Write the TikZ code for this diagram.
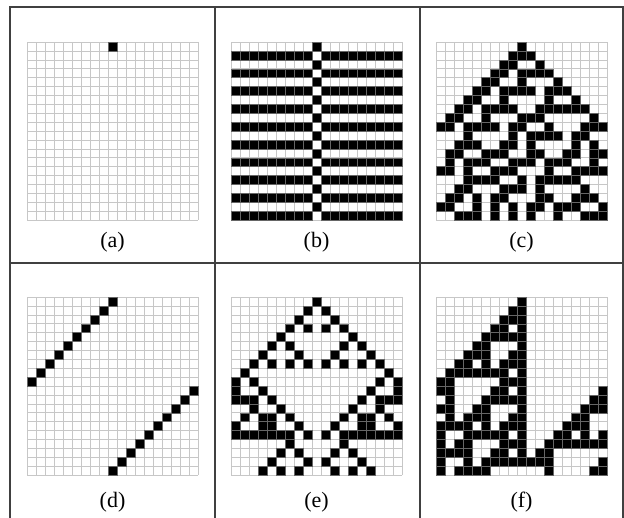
\documentclass[tikz,border=0pt]{standalone}
\usepackage{fontspec}
\setmainfont{Liberation Serif}
\tikzset{
  cacell/.style={fill=black, draw=black!60, line width=0.4pt},
  gridline/.style={draw=black!22, line width=0.6pt},
  frameline/.style={draw=black!75, line width=1.3pt},
  caption/.style={font=\fontsize{22}{26}\selectfont, inner sep=0pt, anchor=center}
}
\ExplSyntaxOn
\intarray_new:Nn \g__ca_cur_intarray {19}
\intarray_new:Nn \g__ca_nxt_intarray {19}
\int_new:N \l__ca_idx_int
\cs_new_protected:Npn \CAgrid #1#2#3
 {
  \int_step_inline:nnn {0} {19}
   { \draw[gridline]~({#2+##1*9},#3)~--~++(0,178); }
  \int_step_inline:nnn {0} {20}
   { \draw[gridline]~(#2,{#3+##1*8.9})~--~++(171,0); }
  \intarray_gzero:N \g__ca_cur_intarray
  \intarray_gset:Nnn \g__ca_cur_intarray {10} {1}
  \int_step_inline:nnn {0} {19}
   {
    \int_step_inline:nnn {1} {19}
     {
      \int_compare:nNnT { \intarray_item:Nn \g__ca_cur_intarray {####1} } = {1}
       { \path[cacell]~({#2+(####1-1)*9},{#3+##1*8.9})~rectangle~++(9,8.9); }
     }
    \int_step_inline:nnn {1} {19}
     {
      \int_set:Nn \l__ca_idx_int
       {
        4 * \intarray_item:Nn \g__ca_cur_intarray { \int_mod:nn { ####1 + 17 } {19} + 1 }
        + 2 * \intarray_item:Nn \g__ca_cur_intarray {####1}
        + \intarray_item:Nn \g__ca_cur_intarray { \int_mod:nn {####1} {19} + 1 }
       }
      \intarray_gset:Nnn \g__ca_nxt_intarray {####1}
       { \int_mod:nn { \int_div_truncate:nn {#1} { \fp_eval:n { 2 ^ \l__ca_idx_int } } } {2} }
     }
    \int_step_inline:nnn {1} {19}
     { \intarray_gset:Nnn \g__ca_cur_intarray {####1} { \intarray_item:Nn \g__ca_nxt_intarray {####1} } }
   }
 }
\ExplSyntaxOff
\begin{document}
\begin{tikzpicture}[x=1pt,y=-1pt]
\useasboundingbox (0,0) rectangle (624,517);
\fill[white] (0,0) rectangle (624,517);
\CAgrid{0}{27}{42}
\CAgrid{51}{231}{42}
\CAgrid{30}{436}{42}
\CAgrid{170}{27}{297}
\CAgrid{90}{231}{297}
\CAgrid{110}{436}{297}
\draw[frameline] (10,7) rectangle (623,519);
\draw[frameline] (215,7) -- (215,519);
\draw[frameline] (420,7) -- (420,519);
\draw[frameline] (10,263) -- (623,263);
\node[caption] (la) at (112.5,242) {(a)};
\node[caption] (lb) at (316.5,242) {(b)};
\node[caption] (lc) at (521.5,242) {(c)};
\node[caption] (ld) at (112.5,502) {(d)};
\node[caption] (le) at (316.5,502) {(e)};
\node[caption] (lf) at (521.5,502) {(f)};
\end{tikzpicture}
\end{document}
